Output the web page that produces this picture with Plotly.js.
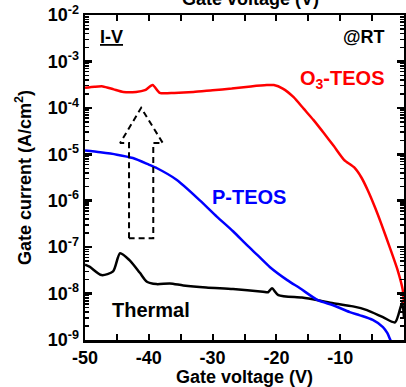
<!DOCTYPE html>
<html>
<head>
<meta charset="utf-8">
<script src="https://cdn.plot.ly/plotly-3.0.1.min.js"></script>
<style>html,body{margin:0;padding:0;background:#fff;}#chart{width:406px;height:387px;}</style>
</head>
<body>
<div id="chart"></div>
<script>
// O3-TEOS (red)
const o3Voltage = [-50,-48.5,-47.2,-45.5,-44,-42,-40.6,-39.4,-38.3,-36,-33,-30,-27,-24,-21.5,-20.4,-19,-17.3,-15.7,-14.2,-12.6,-11,-9.4,-7.8,-6.7,-5.7,-4.6,-3.6,-2.3,-1.0,-0.2,0];
const o3Current = [2.7e-4,2.85e-4,2.9e-4,2.5e-4,2.2e-4,2.2e-4,2.4e-4,3.1e-4,2.1e-4,2.1e-4,2.2e-4,2.4e-4,2.6e-4,2.9e-4,3.1e-4,3.1e-4,2.6e-4,1.7e-4,9.5e-5,5.5e-5,2.9e-5,1.5e-5,7.6e-6,5.2e-6,3.2e-6,1.7e-6,7.5e-7,3.3e-7,1.05e-7,3.2e-8,1.2e-8,6e-9];

// P-TEOS (blue)
const pVoltage = [-50,-47.6,-45,-42.5,-40,-38.7,-35.6,-32,-29.3,-26.8,-24.6,-23,-21,-18.3,-16.3,-13.5,-11.1,-8.5,-6.9,-4.9,-3.3,-2.6,-2.2,-2.0];
const pCurrent = [1.2e-5,1.1e-5,9.8e-6,8.3e-6,6e-6,5e-6,2.8e-6,1.02e-6,4.5e-7,2.2e-7,1.1e-7,6.8e-8,3.7e-8,1.95e-8,1.3e-8,7.2e-9,5.6e-9,4e-9,3.4e-9,2.7e-9,1.9e-9,1.4e-9,1.05e-9,9e-10];

// Thermal (black)
const thVoltage = [-50,-49.3,-47.4,-45.6,-44.5,-43,-41.4,-40.3,-38.8,-36.7,-34.6,-31,-26.8,-22.1,-21.3,-20.7,-19.7,-16,-13.5,-11.1,-8,-5.8,-3.3,-1.4,-0.3,0];
const thCurrent = [4.2e-8,3.8e-8,2.5e-8,3e-8,7.4e-8,5.2e-8,2.8e-8,1.8e-8,1.6e-8,1.65e-8,1.5e-8,1.35e-8,1.25e-8,1.1e-8,1.07e-8,1.3e-8,9.3e-9,8.2e-9,7.2e-9,6.2e-9,5.3e-9,4.4e-9,3.1e-9,2.4e-9,6.3e-9,3e-9];

// Dashed outline arrow (annotation mark)
const arrowX = [-43.1,-43.1,-44.5,-41.2,-37.8,-39.3,-39.3,-43.1];
const arrowY = [1.55e-7,1.74e-5,1.74e-5,1e-4,1.74e-5,1.74e-5,1.55e-7,1.55e-7];

// Tick labels
const xTickVals = [-50,-45,-40,-35,-30,-25,-20,-15,-10,-5,0];
const xTickText = ['-50','','-40','','-30','','-20','','-10','','0'];
const yTickVals = [1e-9,1e-8,1e-7,1e-6,1e-5,1e-4,1e-3,1e-2];
const yTickText = ['10<sup>-9</sup>','10<sup>-8</sup>','10<sup>-7</sup>','10<sup>-6</sup>','10<sup>-5</sup>','10<sup>-4</sup>','10<sup>-3</sup>','10<sup>-2</sup>'];

// minor tick positions (2..9 within each decade)
const yMinorVals = [];
for (let k = -9; k < -2; k++) for (let m = 2; m <= 9; m++) yMinorVals.push(m * Math.pow(10, k));

const FONT = 'Liberation Sans, Arial, sans-serif';

const traces = [
  {x: thVoltage, y: thCurrent, mode: 'lines', line: {color: '#000000', width: 2.5, shape: 'spline', smoothing: 0.7}, hoverinfo: 'skip'},
  {x: pVoltage, y: pCurrent, mode: 'lines', line: {color: '#0000ff', width: 2.5, shape: 'spline', smoothing: 0.7}, hoverinfo: 'skip'},
  {x: o3Voltage, y: o3Current, mode: 'lines', line: {color: '#ff0000', width: 2.5, shape: 'spline', smoothing: 0.6}, hoverinfo: 'skip'},
  {x: arrowX, y: arrowY, mode: 'lines', line: {color: '#000000', width: 2, dash: '6px,4px'}, hoverinfo: 'skip'},
  {x: [-50], y: [1e-9], yaxis: 'y2', mode: 'markers', marker: {opacity: 0}, hoverinfo: 'skip'}
];

const layout = {
  width: 406, height: 387,
  margin: {l: 85, r: 2, t: 15, b: 47},
  paper_bgcolor: '#ffffff', plot_bgcolor: '#ffffff',
  showlegend: false,
  font: {family: FONT, color: '#000', size: 18, weight: 'bold'},
  xaxis: {
    range: [-50, 0], tickmode: 'array', tickvals: xTickVals, ticktext: xTickText,
    ticks: 'inside', ticklen: 6, tickwidth: 2, tickcolor: '#000',
    showline: true, linewidth: 2.5, linecolor: '#000', mirror: 'ticks',
    showgrid: false, zeroline: false,
    tickfont: {family: FONT, size: 18, weight: 'bold', color: '#000'},
    title: {text: 'Gate voltage (V)', font: {family: FONT, size: 18, weight: 'bold'}, standoff: 0}
  },
  yaxis: {
    type: 'log', range: [-9, -2], tickmode: 'array', tickvals: yTickVals, ticktext: yTickText,
    ticks: 'inside', ticklen: 7, tickwidth: 2.5, tickcolor: '#000',
    showline: true, linewidth: 2.5, linecolor: '#000', mirror: 'ticks',
    showgrid: false, zeroline: false,
    tickfont: {family: FONT, size: 18, weight: 'bold', color: '#000'},
    title: {text: 'Gate current (A/cm<sup>2</sup>)', font: {family: FONT, size: 18, weight: 'bold'}, standoff: 12}
  },
  yaxis2: {
    type: 'log', range: [-9, -2], overlaying: 'y', side: 'left', anchor: 'x',
    tickmode: 'array', tickvals: yMinorVals, showticklabels: false,
    ticks: 'inside', ticklen: 4, tickwidth: 1.5, tickcolor: '#000',
    showline: false, mirror: 'ticks', showgrid: false, zeroline: false
  },
  annotations: [
    {xref: 'paper', yref: 'paper', x: (98-85)/319, y: (340-37)/325, xanchor: 'left', yanchor: 'middle', showarrow: false,
     text: 'I-V', font: {family: FONT, size: 18, weight: 'bold', color: '#000', lineposition: 'under'}},
    {xref: 'paper', yref: 'paper', x: (387-85)/319, y: (340-37)/325, xanchor: 'right', yanchor: 'middle', showarrow: false,
     text: '@RT', font: {family: FONT, size: 18, weight: 'bold', color: '#000'}},
    {xref: 'paper', yref: 'paper', x: (386-85)/319, y: (340-80)/325, xanchor: 'right', yanchor: 'middle', showarrow: false,
     text: 'O<sub>3</sub>-TEOS', font: {family: FONT, size: 20, weight: 'bold', color: '#ff0000'}},
    {xref: 'paper', yref: 'paper', x: (210-85)/319, y: (340-197)/325, xanchor: 'left', yanchor: 'middle', showarrow: false,
     text: 'P-TEOS', font: {family: FONT, size: 20, weight: 'bold', color: '#0000ff'}},
    {xref: 'paper', yref: 'paper', x: (110-85)/319, y: (340-310)/325, xanchor: 'left', yanchor: 'middle', showarrow: false,
     text: 'Thermal', font: {family: FONT, size: 20, weight: 'bold', color: '#000'}},
    {xref: 'paper', yref: 'paper', x: (250-85)/319, y: (340+1)/325, xanchor: 'center', yanchor: 'middle', showarrow: false,
     text: 'Gate voltage (V)', font: {family: FONT, size: 18, weight: 'bold', color: '#000'}}
  ]
};

Plotly.newPlot('chart', traces, layout, {staticPlot: true, displayModeBar: false});
</script>
</body>
</html>
